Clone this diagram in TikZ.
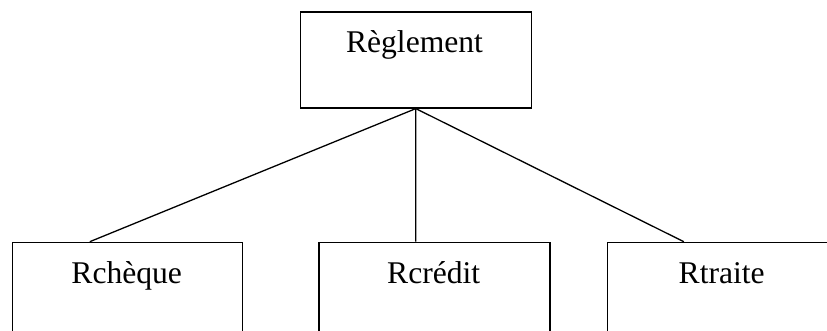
\documentclass[tikz,border=0pt]{standalone}
\usepackage{fontspec}
\setmainfont{Liberation Serif}
\begin{document}
\begin{tikzpicture}[x=1pt,y=-1pt,
  box/.style={draw=black,line width=1.6pt,rectangle,minimum width=230pt,inner sep=0pt},
  lbl/.style={anchor=base,inner sep=0pt,font=\fontsize{31.6}{38}\selectfont},
  conn/.style={draw=black,line width=1.3pt}]
\useasboundingbox (0,0) rectangle (827,331);
\clip (0,0) rectangle (827,331);
\node[box,minimum height=96pt,minimum width=231pt,anchor=north west] (top) at (299.5,11) {};
\node[box,minimum height=120pt,anchor=north west] (b1) at (11.7,241.7) {};
\node[box,minimum height=120pt,anchor=north west,minimum width=230.7pt] (b2) at (318.3,241.7) {};
\node[box,minimum height=120pt,anchor=north west] (b3) at (606.7,241.7) {};
\node[lbl] (t0) at (414.5,53) {Règlement};
\node[lbl] (t1) at (126.7,283) {Rchèque};
\node[lbl] (t2) at (433.7,283) {Rcrédit};
\node[lbl] (t3) at (721.7,283) {Rtraite};
\draw[conn] (top.south) -- ([xshift=-37.7pt]b1.north);
\draw[conn] (top.south) -- ([xshift=-18.7pt]b2.north);
\draw[conn] (top.south) -- ([xshift=-38.7pt]b3.north);
\end{tikzpicture}
\end{document}
